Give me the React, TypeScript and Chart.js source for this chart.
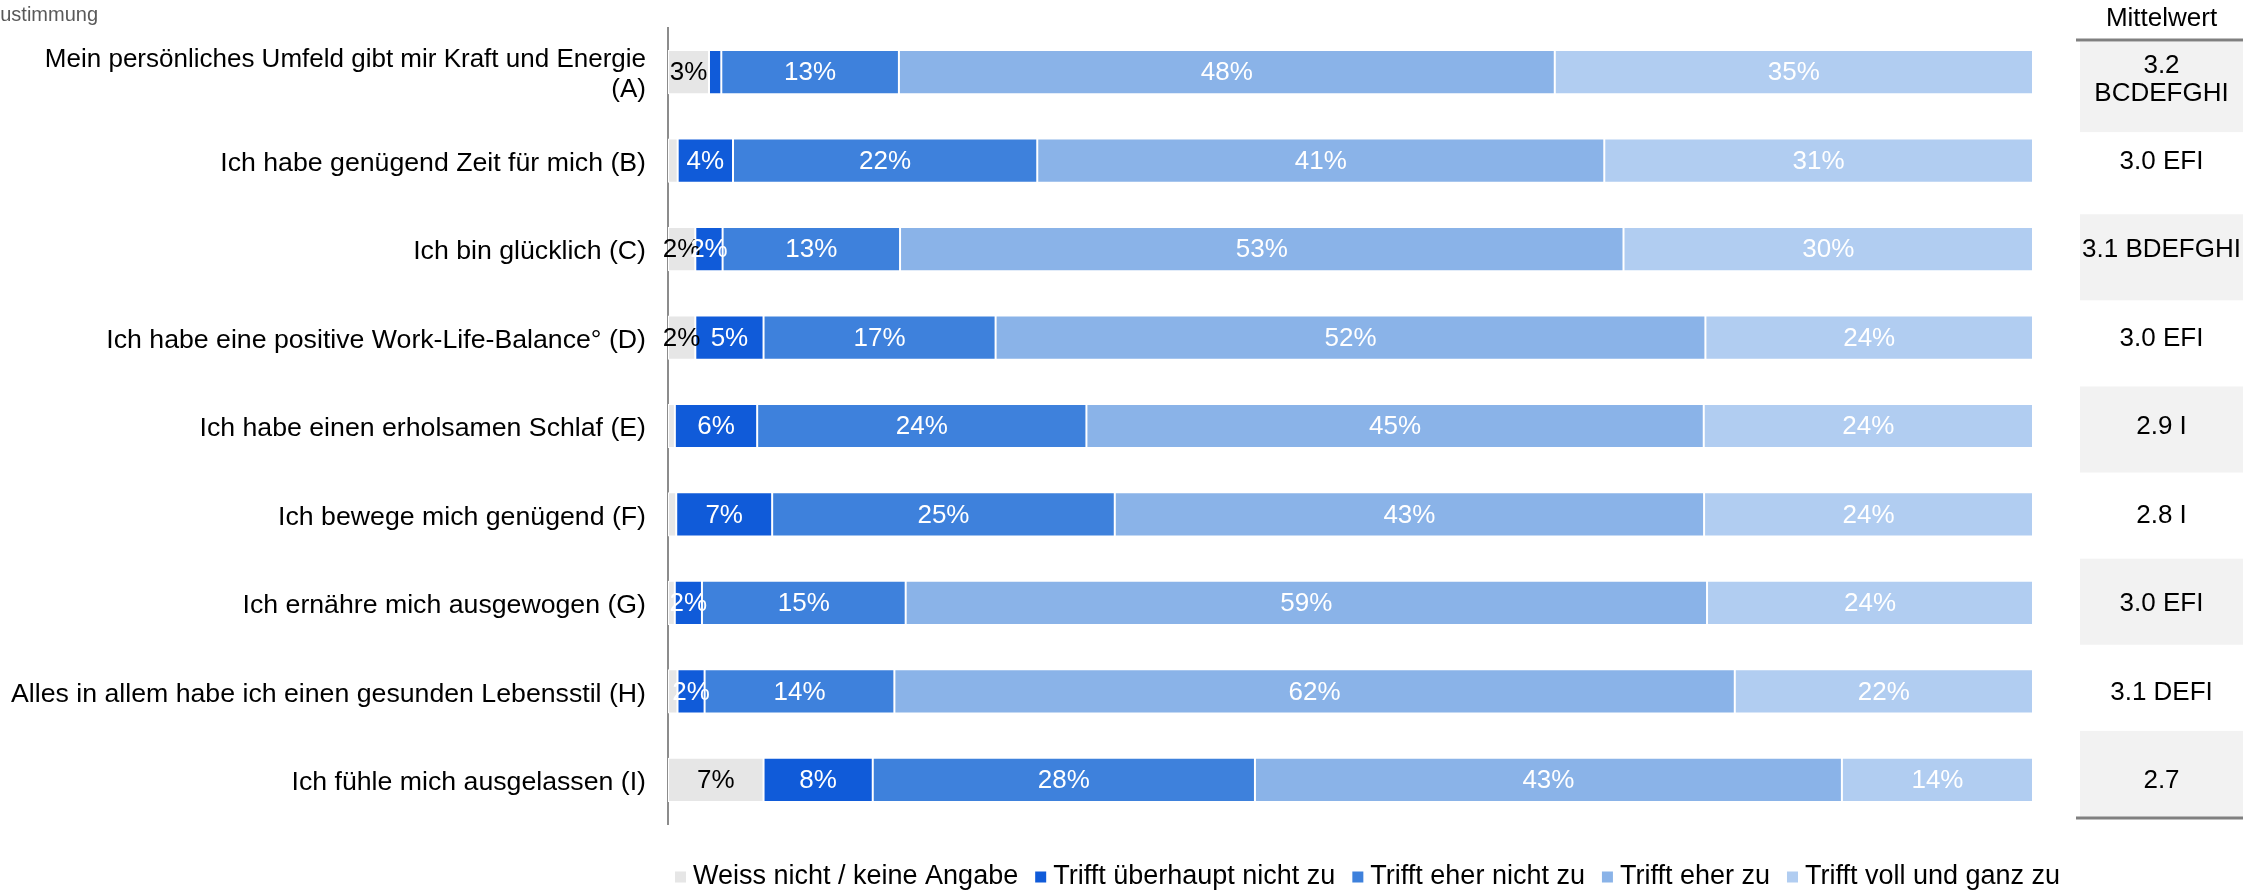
import React, { useEffect, useRef } from "react";
import { Chart, registerables } from "chart.js";

Chart.register(...registerables);

const categories: (string | string[])[] = [
  ["Mein persönliches Umfeld gibt mir Kraft und Energie", "(A)"],
  "Ich habe genügend Zeit für mich (B)",
  "Ich bin glücklich (C)",
  "Ich habe eine positive Work-Life-Balance° (D)",
  "Ich habe einen erholsamen Schlaf (E)",
  "Ich bewege mich genügend (F)",
  "Ich ernähre mich ausgewogen (G)",
  "Alles in allem habe ich einen gesunden Lebensstil (H)",
  "Ich fühle mich ausgelassen (I)",
];

const seriesNames = [
  "Weiss nicht / keine Angabe",
  "Trifft überhaupt nicht zu",
  "Trifft eher nicht zu",
  "Trifft eher zu",
  "Trifft voll und ganz zu",
];

const seriesColors = ["#e6e6e6", "#105bd9", "#3e81dc", "#8ab3e8", "#b1cdf1"];
const labelColors = ["#000000", "#ffffff", "#ffffff", "#ffffff", "#ffffff"];

// values in percent (unlabelled slivers estimated)
const weissNicht = [3, 0.7, 2, 2, 0.5, 0.6, 0.5, 0.7, 7];
const trifftNicht = [0.9, 4, 2, 5, 6, 7, 2, 2, 8];
const eherNicht = [13, 22, 13, 17, 24, 25, 15, 14, 28];
const eherZu = [48, 41, 53, 52, 45, 43, 59, 62, 43];
const vollGanz = [35, 31, 30, 24, 24, 24, 24, 22, 14];

const mittelwert: (string | string[])[] = [
  ["3.2", "BCDEFGHI"],
  "3.0 EFI",
  "3.1 BDEFGHI",
  "3.0 EFI",
  "2.9 I",
  "2.8 I",
  "3.0 EFI",
  "3.1 DEFI",
  "2.7",
];

const FONT = "'Liberation Sans', Arial, sans-serif";
const FS = 26;

export default function App() {
  const ref = useRef<HTMLCanvasElement | null>(null);

  useEffect(() => {
    if (!ref.current) return;
    const raw = [weissNicht, trifftNicht, eherNicht, eherZu, vollGanz];
    const sums = categories.map((_, i) => raw.reduce((s, arr) => s + arr[i], 0));
    const datasets = raw.map((arr, d) => ({
      label: seriesNames[d],
      data: arr.map((v, i) => (v / sums[i]) * 100),
      backgroundColor: seriesColors[d],
      borderColor: "#ffffff",
      borderWidth: 1,
      borderSkipped: false as const,
      barPercentage: 0.5,
      categoryPercentage: 1,
    }));

    const labelPlugin = {
      id: "segLabels",
      afterDatasetsDraw(chart: any) {
        const ctx = chart.ctx;
        ctx.save();
        ctx.font = `${FS}px ${FONT}`;
        ctx.textAlign = "center";
        ctx.textBaseline = "middle";
        chart.data.datasets.forEach((ds: any, d: number) => {
          const meta = chart.getDatasetMeta(d);
          meta.data.forEach((bar: any, i: number) => {
            const v = raw[d][i];
            if (v < 1.5) return;
            const x = (bar.x + bar.base) / 2;
            ctx.fillStyle = labelColors[d];
            ctx.fillText(`${Math.round(v)}%`, x, bar.y + 1);
          });
        });
        ctx.restore();
      },
    };

    const extrasPlugin = {
      id: "extras",
      afterDraw(chart: any) {
        const ctx = chart.ctx;
        const W = chart.width;
        const H = chart.height;
        const yScale = chart.scales.y;
        ctx.save();
        // top-left clipped caption
        ctx.font = `20px ${FONT}`;
        ctx.fillStyle = "#595959";
        ctx.textAlign = "left";
        ctx.textBaseline = "middle";
        ctx.fillText("Zustimmung", -12, 15);

        // legend
        ctx.font = `27px ${FONT}`;
        ctx.textBaseline = "middle";
        let x = chart.chartArea.left + 7;
        const ly = H - 13;
        seriesNames.forEach((name, d) => {
          ctx.fillStyle = seriesColors[d];
          ctx.fillRect(x, ly - 5.5, 11, 11);
          x += 11 + 7;
          ctx.fillStyle = "#000000";
          ctx.fillText(name, x, ly);
          x += ctx.measureText(name).width + 17;
        });

        // Mittelwert table
        ctx.font = `${FS}px ${FONT}`;
        const tLeft = 2080;
        const lineLeft = 2076;
        const top = 42;
        const bottom = 817;
        const rowH = (bottom - top) / mittelwert.length;
        const cx = (tLeft + W) / 2;
        mittelwert.forEach((m, k) => {
          const y0 = top + k * rowH;
          if (k % 2 === 0) {
            ctx.fillStyle = "#f2f2f2";
            const extra = k === 0 ? 4 : 0;
            ctx.fillRect(tLeft, y0, W - tLeft, rowH + extra);
          }
        });
        mittelwert.forEach((m, k) => {
          ctx.fillStyle = "#000000";
          ctx.textAlign = "center";
          const lines = Array.isArray(m) ? m : [m];
          const lh = 28;
          const yc = yScale.getPixelForValue(k) + (lines.length > 1 ? 8 : 1);
          lines.forEach((ln, j) => {
            const yy = yc + (j - (lines.length - 1) / 2) * lh;
            ctx.fillText(ln, cx, yy);
          });
        });
        ctx.fillStyle = "#000000";
        ctx.textAlign = "center";
        ctx.fillText("Mittelwert", cx, 19);
        ctx.strokeStyle = "#808080";
        ctx.lineWidth = 3;
        ctx.beginPath();
        ctx.moveTo(lineLeft, 40);
        ctx.lineTo(W, 40);
        ctx.moveTo(lineLeft, bottom + 1);
        ctx.lineTo(W, bottom + 1);
        ctx.stroke();
        ctx.restore();
      },
    };

    const chart = new Chart(ref.current, {
      type: "bar",
      data: { labels: categories as any, datasets: datasets as any },
      options: {
        indexAxis: "y",
        responsive: false,
        animation: false,
        devicePixelRatio: 1,
        layout: { padding: { top: 28, right: 210, bottom: 66, left: 0 } },
        plugins: { legend: { display: false }, tooltip: { enabled: false } },
        scales: {
          x: { stacked: true, min: 0, max: 100, display: false },
          y: {
            stacked: true,
            grid: { display: false, drawTicks: false },
            border: { display: true, color: "#8c8c8c", width: 2 },
            ticks: {
              color: "#000000",
              padding: 22,
              autoSkip: false,
              labelOffset: 3,
              font: (c: any) => ({
                family: FONT,
                size: c.index === 0 ? 26 : 26.7,
                lineHeight: 1.15,
              }),
            },
            afterFit(scale: any) {
              scale.width = 668;
              scale.paddingTop = 0;
              scale.paddingBottom = 0;
            },
          },
        },
      } as any,
      plugins: [labelPlugin, extrasPlugin],
    });
    return () => chart.destroy();
  }, []);

  return (
    <div style={{ position: "absolute", left: 0, top: 0, width: 2243, height: 890, background: "#ffffff" }}>
      <canvas ref={ref} width={2243} height={890} style={{ display: "block" }} />
    </div>
  );
}
